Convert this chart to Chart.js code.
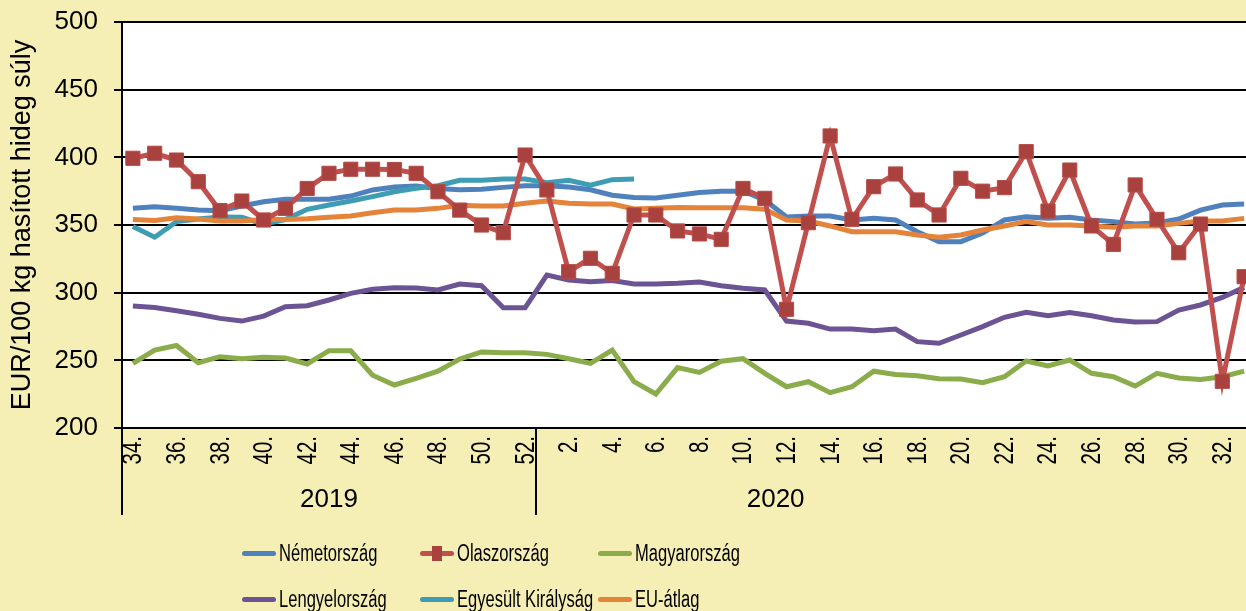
<!DOCTYPE html>
<html>
<head>
<meta charset="utf-8">
<script src="https://cdn.jsdelivr.net/npm/chart.js@4"></script>
<style>
  html, body { margin: 0; padding: 0; overflow: hidden; background: #F5EFB6; }
  #wrap { position: relative; width: 1255px; height: 611px; }
  #legend {
    position: absolute; left: 242px; top: 530px;
    display: grid; grid-template-columns: repeat(3, 178px); grid-auto-rows: 46px;
    font-family: 'Liberation Sans', Arial, sans-serif;
    font-size: 23px; color: #000;
  }
  .item { display: flex; align-items: center; white-space: nowrap; }
  .item span.txt { display: inline-block; transform: scaleX(0.72); transform-origin: left center; }
  .swatch { position: relative; width: 34px; height: 5px; border-radius: 3px; margin-right: 3px; flex: none; }
  .swatch i { position: absolute; left: 12px; top: -5px; width: 10px; height: 15px; }
</style>
</head>
<body>
<div id="wrap">
  <canvas id="chart"></canvas>
  <div id="legend"></div>
</div>
<script>
// weeks: 2019 week 34..52, 2020 week 1..33
const weeks = [
  '34.', '35.', '36.', '37.', '38.', '39.', '40.', '41.', '42.', '43.', '44.', '45.', '46.', '47.', '48.', '49.', '50.', '51.', '52.',
  '1.', '2.', '3.', '4.', '5.', '6.', '7.', '8.', '9.', '10.', '11.', '12.', '13.', '14.', '15.', '16.', '17.', '18.', '19.', '20.',
  '21.', '22.', '23.', '24.', '25.', '26.', '27.', '28.', '29.', '30.', '31.', '32.', '33.',
];
const years = ['2019', '2020'];
const yearSpans = [[0, 18], [19, 40]];
const yTicks = [200, 250, 300, 350, 400, 450, 500];

const nemetorszag = [
  362.4, 363.5, 362.4, 361, 360.5, 364, 367.2, 369, 369, 369, 371.4, 375.9, 378, 378.8, 377, 376, 376.4, 377.8, 379,
  379, 378, 376, 372, 370.4, 370, 372, 374, 375, 375, 368.5, 356, 356.6, 356.6, 353.7, 355, 353.7, 345, 337.7, 337.7,
  344, 353.7, 356, 355, 355.7, 353.7, 352.5, 350.7, 351.5, 354.4, 361, 364.8, 365.5,
];
const olaszorszag = [
  399.3, 403, 398, 382, 360.6, 367.7, 353.7, 362.3, 377, 388.2, 391.2, 391.2, 391, 388.2, 374.6, 361, 350, 344.3, 401.7,
  375.9, 315.5, 325.4, 314.3, 357.4, 357.4, 345.6, 343.4, 339.4, 377, 369.7, 287.7, 351.7, 415.8, 354.2, 378.3, 387.7, 368.5, 357.4, 384.5,
  375, 377.6, 404.2, 360.3, 390.6, 349.3, 335.7, 379.6, 354.2, 329.5, 350.7, 234.5, 311.8,
];
const magyarorszag = [
  247.8, 257.6, 261, 248.3, 252.7, 251.2, 252.2, 251.7, 247.3, 257.1, 257.1, 239, 231.8, 236.7, 242, 250.9, 256.2, 255.6, 255.6,
  254.4, 251.2, 247.8, 257.6, 234.2, 225.1, 244.6, 241.1, 249.3, 251.2, 240.4, 230.5, 234.2, 226.1, 230.5, 242, 239.6, 238.6, 236.4, 236.2,
  233.5, 237.9, 249.5, 245.8, 250.2, 240.4, 237.9, 231, 240.4, 236.9, 235.9, 237.9, 242,
];
const lengyelorszag = [
  290.1, 289, 286.6, 284, 281, 279, 282.7, 289.6, 290.4, 294.6, 299.5, 302.5, 303.7, 303.4, 302, 306.4, 305.1, 288.8, 288.8,
  313, 309.4, 308.1, 308.9, 306.4, 306.4, 306.9, 307.9, 305.1, 303.2, 302, 279, 277.4, 273.1, 273.1, 271.9, 273.1, 263.8, 262.6, 268.7,
  274.9, 281.8, 285.5, 283, 285.3, 283, 279.8, 278.3, 278.6, 287.2, 290.9, 296.5, 303.9,
];
const egyesultKiralysag = [
  348.8, 341, 352.5, 354.4, 356, 355.7, 350.7, 354, 361.6, 364.8, 367.7, 371, 374.6, 377.1, 379, 383, 383, 383.9, 383.9,
  381.3, 383, 379.5, 383.5, 384,
];
const euAtlag = [
  354, 353.4, 355.4, 354.4, 353, 353, 354, 354, 354.6, 355.7, 356.6, 359, 361, 361, 362.3, 364.5, 364, 364, 366,
  367.7, 366, 365.5, 365.5, 361.8, 362.3, 363, 362.8, 362.8, 362.8, 361.6, 353.7, 353, 349.3, 345, 345, 345, 342.6, 340.9, 342.6,
  346.3, 349.3, 352.5, 350, 350, 349.3, 348.3, 349.3, 349.3, 351.2, 353, 353, 354.9,
];

const regular = "'Liberation Sans', Arial, sans-serif";

function line(label, data, color, order) {
  return {
    label, data, order,
    borderColor: color, backgroundColor: color,
    borderWidth: 5, pointRadius: 0, pointHoverRadius: 0, tension: 0,
  };
}

function noPadding(scale) {
  scale.paddingTop = 0;
  scale.paddingBottom = 0;
  scale.paddingLeft = 0;
  scale.paddingRight = 0;
}

const plotBackground = {
  id: 'plotBackground',
  beforeDraw(chart) {
    const { ctx, chartArea: a } = chart;
    ctx.save();
    ctx.fillStyle = '#fff';
    ctx.fillRect(a.left, a.top, a.right - a.left, a.bottom - a.top);
    ctx.restore();
  },
};

// week labels (narrow, rotated), year row and separators under the x axis
const categoryAxis = {
  id: 'categoryAxis',
  afterDraw(chart) {
    const { ctx, chartArea: a } = chart;
    const x = chart.scales.x;
    const edge = (i) => (x.getPixelForValue(i) + x.getPixelForValue(i + 1)) / 2;
    ctx.save();
    ctx.fillStyle = '#000';
    ctx.font = '27px ' + regular;
    ctx.textAlign = 'right';
    ctx.textBaseline = 'middle';
    weeks.forEach((w, i) => {
      if (parseInt(w, 10) % 2 !== 0) return;
      ctx.save();
      ctx.translate(x.getPixelForValue(i) + 1, a.bottom + 8);
      ctx.rotate(-Math.PI / 2);
      ctx.scale(0.76, 1);
      ctx.fillText(w, 0, 0);
      ctx.restore();
    });
    ctx.strokeStyle = '#000';
    ctx.lineWidth = 2;
    [a.left, edge(yearSpans[0][1])].forEach((px) => {
      ctx.beginPath();
      ctx.moveTo(px, a.bottom);
      ctx.lineTo(px, a.bottom + 87);
      ctx.stroke();
    });
    ctx.font = '26px ' + regular;
    ctx.textAlign = 'center';
    years.forEach((y, i) => {
      const [s, e] = yearSpans[i];
      const cx = (x.getPixelForValue(s) + x.getPixelForValue(e)) / 2;
      ctx.fillText(y, cx, a.bottom + 72);
    });
    ctx.restore();
  },
};

const chart = new Chart(document.getElementById('chart'), {
  type: 'line',
  data: {
    labels: weeks,
    datasets: [
      line('Németország', nemetorszag, '#4F81BD', 5),
      Object.assign(line('Olaszország', olaszorszag, '#C0504D', 0), {
        pointStyle: 'rect', pointRadius: 10, pointHoverRadius: 10,
        pointBackgroundColor: '#A9423F', pointBorderColor: '#B64A46', pointBorderWidth: 1,
      }),
      line('Magyarország', magyarorszag, '#8BAC4A', 4),
      line('Lengyelország', lengyelorszag, '#6C5494', 3),
      line('Egyesült Királyság', egyesultKiralysag, '#3E9DB4', 2),
      line('EU-átlag', euAtlag, '#E3843A', 1),
    ],
  },
  options: {
    responsive: true,
    maintainAspectRatio: false,
    animation: false,
    layout: { autoPadding: false, padding: { top: 22, left: 0, right: 0, bottom: 91 } },
    plugins: { legend: { display: false }, tooltip: { enabled: false } },
    scales: {
      x: {
        offset: true,
        grid: { display: false, drawTicks: false },
        border: { display: false },
        ticks: { display: false },
        afterFit(scale) { scale.height = 92; noPadding(scale); },
      },
      y: {
        min: yTicks[0],
        max: yTicks[yTicks.length - 1],
        afterBuildTicks(scale) { scale.ticks = yTicks.map((v) => ({ value: v })); },
        ticks: { padding: 16, color: '#000', font: { family: regular, size: 26 } },
        grid: { color: '#000', lineWidth: 2, tickLength: 8 },
        border: { color: '#000', width: 2 },
        title: {
          display: true, text: 'EUR/100 kg hasított hideg súly', color: '#000',
          font: { family: regular, size: 27 }, padding: { top: 6, bottom: 0 },
        },
        afterFit(scale) { scale.width = 122; noPadding(scale); },
      },
    },
  },
  plugins: [plotBackground, categoryAxis],
});

// html legend, 3 columns
const legend = document.getElementById('legend');
chart.data.datasets.forEach((ds) => {
  const item = document.createElement('div');
  item.className = 'item';
  const sw = document.createElement('span');
  sw.className = 'swatch';
  sw.style.background = ds.borderColor;
  if (ds.pointStyle === 'rect') {
    const m = document.createElement('i');
    m.style.background = ds.pointBackgroundColor;
    sw.appendChild(m);
  }
  const txt = document.createElement('span');
  txt.className = 'txt';
  txt.textContent = ds.label;
  item.appendChild(sw);
  item.appendChild(txt);
  legend.appendChild(item);
});
</script>
</body>
</html>
